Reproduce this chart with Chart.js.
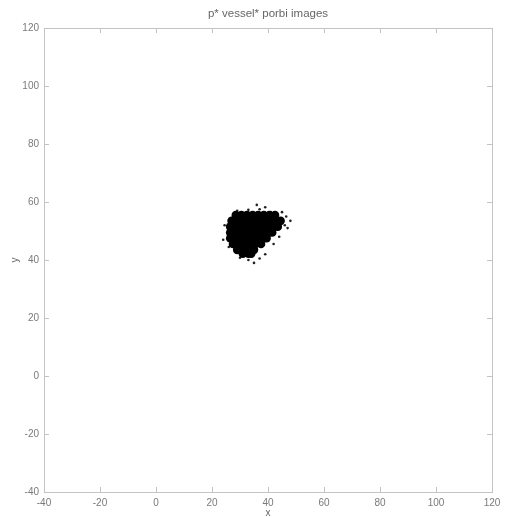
<!DOCTYPE html>
<html>
<head>
<meta charset="utf-8">
<title>porbi images</title>
<script src="https://cdn.jsdelivr.net/npm/chart.js@4.4.1/dist/chart.umd.min.js"></script>
<style>
    html, body { margin: 0; padding: 0; background: #fff; }
    #wrap { width: 508px; height: 517px; }
</style>
</head>
<body>
<div id="wrap"><canvas id="cloudChart" width="508" height="517"></canvas></div>
<script>
// axis ranges and ticks
const xTicks = [-40, -20, 0, 20, 40, 60, 80, 100, 120];
const yTicks = [-40, -20, 0, 20, 40, 60, 80, 100, 120];
const titleText = 'p* vessel* porbi images';
const xLabel = 'x';
const yLabel = 'y';

// dense core of the cloud, estimated row by row: [x, y]
const corePoints = [
    [28.5, 55.5], [30.5, 55.5], [32.5, 55.5], [34.5, 55.5], [36.5, 55.5], [38.5, 55.5], [40.5, 55.5], [42.5, 55.5],
    [27, 53.5], [29, 53.5], [31, 53.5], [33, 53.5], [35, 53.5], [37, 53.5], [39, 53.5], [41, 53.5], [43, 53.5], [44.5, 53.5],
    [26.5, 51.5], [28.5, 51.5], [30.5, 51.5], [32.5, 51.5], [34.5, 51.5], [36.5, 51.5], [38.5, 51.5], [40.5, 51.5], [42.5, 51.5], [43.5, 51.5],
    [26.5, 49.5], [28.5, 49.5], [30.5, 49.5], [32.5, 49.5], [34.5, 49.5], [36.5, 49.5], [38.5, 49.5], [40.5, 49.5], [41.5, 49.5],
    [26.5, 47.5], [28.5, 47.5], [30.5, 47.5], [32.5, 47.5], [34.5, 47.5], [36.5, 47.5], [38.5, 47.5], [39.5, 47.5],
    [27.5, 45.5], [29.5, 45.5], [31.5, 45.5], [33.5, 45.5], [35.5, 45.5], [37.5, 45.5],
    [29, 43.5], [31, 43.5], [33, 43.5], [35, 43.5],
    [31, 42.2], [33, 42.2], [34, 42.2]
];

// loose points round the edge of the cloud
const strayPoints = [
    [29, 57], [33, 57.3], [37, 57.5], [41, 56.5], [36, 59], [39, 58.2], [45, 56.5],
    [46.5, 55], [48, 53.5], [46, 52], [47, 51], [44, 48], [42, 45.5], [39, 42],
    [37, 40.5], [33, 40], [35, 39], [24.5, 52], [24, 47], [30, 40.8], [26, 44.5]
];

const toXY = pts => pts.map(p => ({ x: p[0], y: p[1] }));

const frameColor = '#c4c4c4';
const labelColor = '#7a7a7a';
const fontFamily = '"Liberation Sans", Arial, sans-serif';

// box, inward ticks on all four sides, title and axis names
const matlabFrame = {
    id: 'matlabFrame',
    afterDraw(chart) {
        const { ctx, chartArea: a, scales } = chart;
        ctx.save();
        ctx.strokeStyle = frameColor;
        ctx.lineWidth = 1;
        ctx.strokeRect(a.left + 0.5, a.top + 0.5, a.right - a.left, a.bottom - a.top);

        ctx.beginPath();
        xTicks.forEach(v => {
            const px = Math.round(scales.x.getPixelForValue(v)) + 0.5;
            ctx.moveTo(px, a.bottom); ctx.lineTo(px, a.bottom - 5);
            ctx.moveTo(px, a.top); ctx.lineTo(px, a.top + 5);
        });
        yTicks.forEach(v => {
            const py = Math.round(scales.y.getPixelForValue(v)) + 0.5;
            ctx.moveTo(a.left, py); ctx.lineTo(a.left + 5, py);
            ctx.moveTo(a.right, py); ctx.lineTo(a.right - 5, py);
        });
        ctx.stroke();

        ctx.fillStyle = '#666';
        ctx.textAlign = 'center';
        ctx.textBaseline = 'middle';
        ctx.font = '11.5px ' + fontFamily;
        ctx.fillText(titleText, (a.left + a.right) / 2, 14);
        ctx.font = '10px ' + fontFamily;
        ctx.fillText(xLabel, (a.left + a.right) / 2, 513);

        ctx.translate(15, (a.top + a.bottom) / 2);
        ctx.rotate(-Math.PI / 2);
        ctx.fillText(yLabel, 0, 0);
        ctx.restore();
    }
};

new Chart(document.getElementById('cloudChart').getContext('2d'), {
    type: 'scatter',
    data: {
        datasets: [{
            label: 'core',
            data: toXY(corePoints),
            backgroundColor: '#000',
            borderColor: '#000',
            pointRadius: 4.3,
            borderWidth: 0
        }, {
            label: 'stray',
            data: toXY(strayPoints),
            backgroundColor: '#222',
            borderColor: '#222',
            pointRadius: 1.3,
            borderWidth: 0
        }]
    },
    options: {
        responsive: false,
        animation: false,
        layout: { padding: { top: 28, right: 16, left: 0, bottom: 0 } },
        plugins: {
            legend: { display: false },
            tooltip: { enabled: false }
        },
        scales: {
            x: {
                type: 'linear',
                min: -40,
                max: 120,
                afterBuildTicks: s => { s.ticks = xTicks.map(v => ({ value: v })); },
                afterFit: s => { s.height = 25; },
                grid: { display: false, drawTicks: false },
                border: { display: false },
                ticks: { color: labelColor, font: { size: 10, family: fontFamily }, padding: 5, maxRotation: 0 }
            },
            y: {
                type: 'linear',
                min: -40,
                max: 120,
                afterBuildTicks: s => { s.ticks = yTicks.map(v => ({ value: v })); },
                afterFit: s => { s.width = 44; },
                grid: { display: false, drawTicks: false },
                border: { display: false },
                ticks: { color: labelColor, font: { size: 10, family: fontFamily }, padding: 5 }
            }
        }
    },
    plugins: [matlabFrame]
});
</script>
</body>
</html>
